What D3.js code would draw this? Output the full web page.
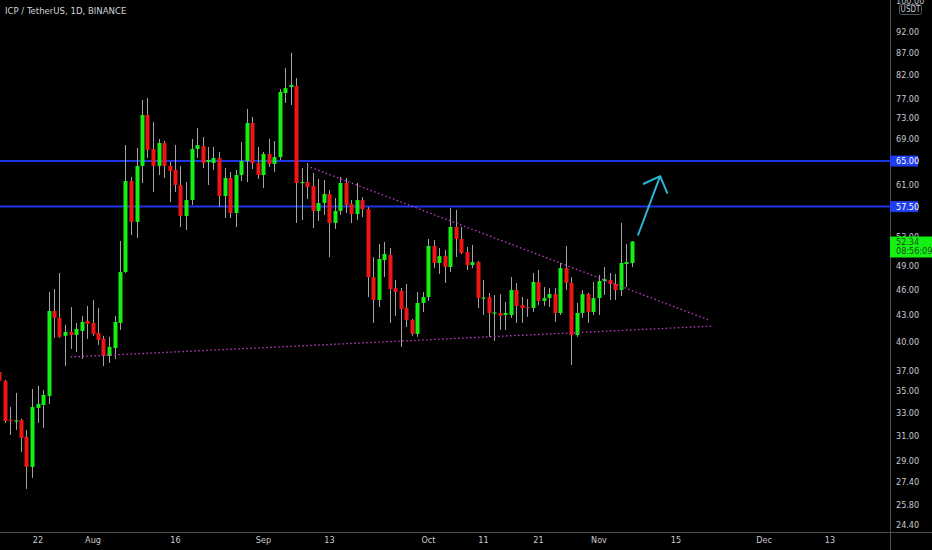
<!DOCTYPE html>
<html>
<head>
<meta charset="utf-8">
<script src="https://cdn.jsdelivr.net/npm/d3@7"></script>
<style>
  body { margin: 0; background: #000; overflow: hidden; }
</style>
</head>
<body>
<div id="chart"></div>
<script>
var svgWidth = 932;
var svgHeight = 550;
var plotRight = 890;
var plotBottom = 532;
var narrowFont = "'Liberation Sans Narrow', 'DejaVu Sans Condensed', 'Arial Narrow', sans-serif";

// Daily candles, first one is 2021-07-15
var firstDay = "2021-07-15";
var opens = [36.84, 35.96, 32.38, 32.25, 32.38, 30.94, 28.53, 33.44, 33.71, 34.54,
  43.41, 42.61, 40.60, 41.03, 40.70, 41.14, 42.27, 42.04, 40.92, 40.27,
  38.46, 39.30, 42.04, 48.22, 61.60, 55.17, 64.15, 73.58, 67.15, 64.15,
  68.23, 64.15, 63.46, 60.94, 56.06, 58.53, 67.15, 67.69, 64.84, 64.66,
  65.54, 59.16, 62.10, 56.52, 62.60, 65.01, 72.01, 64.66, 62.60, 66.25,
  64.49, 65.70, 78.06, 79.32, 79.54, 61.27, 61.44, 60.77, 56.83, 58.06,
  59.48, 55.02, 56.83, 61.27, 57.90, 56.36, 58.53, 57.11, 47.56, 44.72,
  49.80, 50.47, 46.17, 45.82, 43.77, 42.38, 40.81, 44.36, 45.07, 51.71,
  49.40, 50.33, 48.87, 54.43, 52.70, 50.88, 49.13, 49.53, 44.89, 45.07,
  43.12, 43.18, 42.94, 42.94, 45.94, 44.12, 43.88, 43.77, 46.94, 44.60,
  44.95, 45.44, 43.18, 48.72, 46.81, 40.69, 43.18, 45.44, 43.30, 44.95,
  47.06, 47.19, 46.68, 45.94, 49.26, 49.40];
var highs = [37.23, 36.06, 33.52, 34.82, 32.47, 31.52, 35.19, 35.48, 35.10, 45.69,
  46.06, 48.09, 41.81, 43.88, 42.04, 42.84, 44.00, 44.72, 43.77, 40.60,
  40.49, 42.84, 52.42, 67.87, 62.27, 67.33, 76.61, 77.02, 72.21, 68.98,
  68.60, 64.84, 67.86, 64.15, 61.44, 68.98, 71.05, 69.35, 67.51, 67.51,
  66.61, 63.80, 63.12, 63.46, 68.42, 74.78, 73.19, 67.51, 66.61, 68.98,
  68.60, 78.88, 83.48, 87.00, 81.26, 63.80, 64.66, 62.95, 61.94, 61.77,
  60.13, 58.85, 62.27, 62.10, 58.53, 61.27, 58.99, 57.42, 50.19, 51.99,
  52.28, 51.42, 47.19, 46.17, 46.68, 42.49, 45.69, 45.69, 52.70, 52.56,
  51.42, 51.16, 57.29, 56.98, 54.43, 51.57, 51.85, 49.66, 47.19, 45.57,
  45.32, 45.44, 44.48, 47.56, 46.81, 45.07, 44.84, 48.09, 48.48, 46.30,
  46.17, 46.17, 49.40, 51.71, 47.56, 44.36, 45.94, 45.57, 46.94, 47.83,
  48.87, 48.09, 47.96, 55.02, 51.99, 52.40];
var lows = [35.77, 32.12, 31.09, 31.52, 29.70, 26.89, 27.70, 32.12, 31.69, 33.80,
  40.38, 40.38, 37.43, 39.20, 38.88, 38.15, 40.27, 40.60, 39.62, 37.43,
  37.74, 38.15, 41.25, 48.09, 53.26, 52.84, 61.27, 65.54, 59.81, 62.60,
  62.10, 58.21, 59.81, 54.42, 53.99, 57.74, 65.54, 63.80, 60.94, 63.46,
  57.42, 55.75, 55.75, 54.42, 61.60, 61.44, 63.63, 61.94, 60.44, 63.97,
  63.12, 65.19, 75.99, 75.58, 55.02, 55.47, 58.67, 54.27, 55.32, 56.21,
  50.19, 54.14, 56.21, 56.52, 55.02, 55.47, 55.90, 45.07, 42.04, 43.88,
  47.56, 42.04, 42.84, 39.41, 41.58, 40.60, 40.49, 43.30, 44.60, 48.72,
  47.96, 46.81, 48.22, 50.19, 50.61, 48.48, 48.72, 43.77, 42.94, 40.49,
  40.05, 41.25, 41.25, 42.61, 42.04, 42.04, 42.73, 43.30, 44.12, 44.00,
  43.88, 42.15, 42.94, 45.94, 37.54, 40.49, 42.61, 42.04, 42.94, 42.94,
  45.32, 44.72, 44.72, 45.20, 46.30, 48.87];
var closes = [35.96, 32.29, 32.29, 32.34, 30.85, 28.53, 33.52, 33.80, 34.63, 43.41,
  42.61, 40.49, 41.03, 40.70, 41.36, 42.15, 41.93, 40.81, 40.16, 38.46,
  39.41, 42.15, 48.22, 61.60, 55.17, 64.15, 73.58, 66.97, 64.15, 68.23,
  64.15, 63.29, 60.94, 56.06, 58.53, 67.15, 67.86, 64.66, 65.19, 65.54,
  59.16, 62.10, 56.52, 62.60, 65.01, 72.01, 64.66, 62.60, 66.25, 64.49,
  65.70, 78.28, 79.10, 79.76, 61.27, 61.44, 60.60, 56.83, 58.06, 59.48,
  55.02, 56.83, 61.27, 57.74, 56.36, 58.53, 57.11, 47.56, 44.72, 49.92,
  50.61, 46.06, 45.69, 43.63, 42.38, 40.81, 44.36, 45.07, 51.71, 49.40,
  50.33, 48.87, 54.43, 52.70, 50.75, 49.13, 49.53, 44.95, 45.01, 43.18,
  43.24, 42.84, 43.18, 45.94, 44.00, 43.77, 43.77, 46.94, 44.60, 44.95,
  45.44, 43.18, 48.72, 46.81, 40.69, 43.18, 45.44, 43.30, 44.95, 47.06,
  47.30, 46.68, 45.94, 49.40, 49.53, 52.34];

// Axis ticks
var priceTicks = [100, 92, 87, 82, 77, 73, 69, 61, 53, 49, 46, 43, 40, 37, 35, 33, 31, 29, 27.4, 25.8, 24.4];
var timeTicks = ["2021-07-22", "2021-08-01", "2021-08-16", "2021-09-01", "2021-09-13", "2021-10-01",
  "2021-10-11", "2021-10-21", "2021-11-01", "2021-11-15", "2021-12-01", "2021-12-13"];
var timeLabels = ["22", "Aug", "16", "Sep", "13", "Oct", "11", "21", "Nov", "15", "Dec", "13"];

// Drawings
var levels = [65, 57.5];
var supportLine = [["2021-07-28", 38.36], ["2021-11-22", 41.69]];
var resistanceLine = [["2021-09-09", 64.15], ["2021-11-21", 42.38]];
var arrowLine = [["2021-11-08T05:00:00Z", 53.3], ["2021-11-12T05:00:00Z", 62.4]];
var lastPrice = 52.34;
var countdown = "08:56:09";

var svg = d3.select("#chart")
  .append("svg")
  .attr("width", svgWidth)
  .attr("height", svgHeight)
  .style("background", "#000");

// Scales
var x = d3.scaleUtc()
  .domain([d3.isoParse("2021-07-15"), d3.isoParse("2021-12-24")])
  .range([-1, plotRight]);
var y = d3.scaleLog()
  .domain([24.4, 92])
  .range([525, 32]);

var candles = opens.map(function(o, i) {
  return {
    date: d3.utcDay.offset(d3.isoParse(firstDay), i),
    open: o, high: highs[i], low: lows[i], close: closes[i]
  };
});

svg.append("clipPath").attr("id", "plot")
  .append("rect").attr("width", plotRight).attr("height", plotBottom);

var chartGroup = svg.append("g").attr("clip-path", "url(#plot)");

// Horizontal levels
chartGroup.selectAll(".level").data(levels).enter()
  .append("line")
  .attr("x1", 0).attr("x2", plotRight)
  .attr("y1", d => y(d)).attr("y2", d => y(d))
  .attr("stroke", "#1f36e6")
  .attr("stroke-width", 2);

// Wicks
chartGroup.selectAll(".wick").data(candles).enter()
  .append("line")
  .attr("x1", d => Math.round(x(d.date)) + 0.5)
  .attr("x2", d => Math.round(x(d.date)) + 0.5)
  .attr("y1", d => y(d.high))
  .attr("y2", d => y(d.low))
  .attr("stroke", "#a3a3a3")
  .attr("stroke-width", 1);

// Bodies
chartGroup.selectAll(".body").data(candles).enter()
  .append("rect")
  .attr("x", d => Math.round(x(d.date)) - 1.5)
  .attr("width", 4)
  .attr("y", d => y(Math.max(d.open, d.close)))
  .attr("height", d => Math.max(1.2, Math.abs(y(d.open) - y(d.close))))
  .attr("fill", d => d.close >= d.open ? "#14ef14" : "#f01414");

// Trend lines (dotted)
var trendLine = d3.line()
  .x(d => x(d3.isoParse(d[0])))
  .y(d => y(d[1]));
[supportLine, resistanceLine].forEach(function(pts) {
  chartGroup.append("path")
    .attr("d", trendLine(pts))
    .attr("fill", "none")
    .attr("stroke", "#c13dcf")
    .attr("stroke-width", 1.3)
    .attr("stroke-dasharray", "1.5,2.5");
});

// Arrow
var a0 = [x(d3.isoParse(arrowLine[0][0])), y(arrowLine[0][1])];
var a1 = [x(d3.isoParse(arrowLine[1][0])), y(arrowLine[1][1])];
var ang = Math.atan2(a0[1] - a1[1], a0[0] - a1[0]);
var head = [ang - 0.76, ang + 0.78].map(t => [a1[0] + 18 * Math.cos(t), a1[1] + 18 * Math.sin(t)]);
chartGroup.append("path")
  .attr("d", "M" + a0 + "L" + a1 + "M" + head[0] + "L" + a1 + "L" + head[1])
  .attr("fill", "none")
  .attr("stroke", "#2bb6d8")
  .attr("stroke-width", 2)
  .attr("stroke-linecap", "round")
  .attr("stroke-linejoin", "round");

// Price axis
var rightAxis = d3.axisRight(y)
  .tickValues(priceTicks)
  .tickFormat(d3.format(".2f"))
  .tickSize(0)
  .tickPadding(6);
var yAxisGroup = svg.append("g")
  .attr("transform", `translate(${plotRight}, 0)`)
  .call(rightAxis);
yAxisGroup.select(".domain").remove();
yAxisGroup.selectAll("text")
  .attr("fill", "#c8cad0")
  .attr("font-family", narrowFont)
  .attr("font-size", 9);

// Time axis
var bottomAxis = d3.axisBottom(x)
  .tickValues(timeTicks.map(d3.isoParse))
  .tickFormat((d, i) => timeLabels[i])
  .tickSize(0)
  .tickPadding(5);
var xAxisGroup = svg.append("g")
  .attr("transform", `translate(0, ${plotBottom})`)
  .call(bottomAxis);
xAxisGroup.select(".domain").remove();
xAxisGroup.selectAll("text")
  .attr("fill", "#c8cad0")
  .attr("font-family", narrowFont)
  .attr("font-size", 9);

// Separator lines
svg.append("line")
  .attr("x1", plotRight + 0.5).attr("x2", plotRight + 0.5)
  .attr("y1", 0).attr("y2", svgHeight)
  .attr("stroke", "#4e4e4e");
svg.append("line")
  .attr("x1", 0).attr("x2", svgWidth)
  .attr("y1", plotBottom + 0.5).attr("y2", plotBottom + 0.5)
  .attr("stroke", "#4e4e4e");

// Level tags
var tags = svg.selectAll(".tag").data(levels).enter().append("g")
  .attr("transform", d => `translate(${plotRight}, ${y(d)})`);
tags.append("rect")
  .attr("x", 0).attr("y", -5.5)
  .attr("width", 28).attr("height", 11)
  .attr("fill", "#1f3ef0");
tags.append("text")
  .attr("x", 6).attr("dy", "0.34em")
  .attr("fill", "#fff")
  .attr("font-family", narrowFont)
  .attr("font-size", 9)
  .text(d => d3.format(".2f")(d));

// Last price tag
var lastTag = svg.append("g")
  .attr("transform", `translate(${plotRight}, ${y(lastPrice)})`);
lastTag.append("rect")
  .attr("x", 0).attr("y", -5)
  .attr("width", svgWidth - plotRight).attr("height", 21)
  .attr("fill", "#14ef14");
lastTag.append("text")
  .attr("x", 6).attr("dy", "0.34em")
  .attr("fill", "#1d4d1d")
  .attr("font-family", narrowFont)
  .attr("font-size", 9)
  .text(d3.format(".2f")(lastPrice));
lastTag.append("text")
  .attr("x", 6).attr("y", 9).attr("dy", "0.34em")
  .attr("fill", "#1d4d1d")
  .attr("font-family", narrowFont)
  .attr("font-size", 9)
  .text(countdown);

// Currency box
svg.append("rect")
  .attr("x", 899.5).attr("y", 4.5)
  .attr("width", 22).attr("height", 10)
  .attr("rx", 2)
  .attr("fill", "#000")
  .attr("stroke", "#555");
svg.append("text")
  .attr("x", 910.5).attr("y", 9.5).attr("dy", "0.34em")
  .attr("text-anchor", "middle")
  .attr("fill", "#c8cad0")
  .attr("font-family", narrowFont)
  .attr("font-size", 8)
  .text("USDT");

// Title
svg.append("text")
  .attr("x", 5).attr("y", 14)
  .attr("fill", "#d1d4dc")
  .attr("font-family", narrowFont)
  .attr("font-size", 9.5)
  .text("ICP / TetherUS, 1D, BINANCE");
</script>
</body>
</html>
